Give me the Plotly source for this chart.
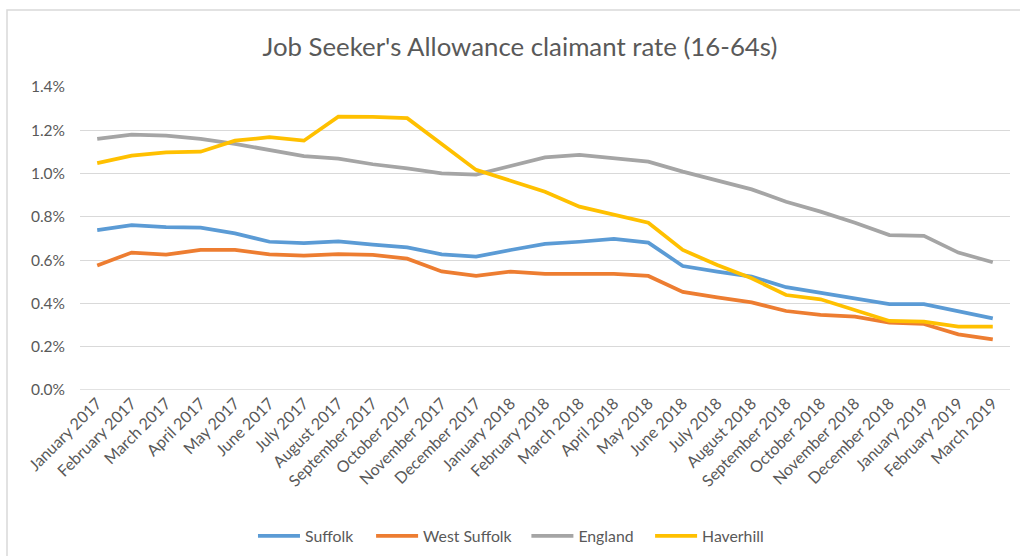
import plotly.graph_objects as go

months = [
    "January 2017", "February 2017", "March 2017", "April 2017", "May 2017",
    "June 2017", "July 2017", "August 2017", "September 2017", "October 2017",
    "November 2017", "December 2017", "January 2018", "February 2018",
    "March 2018", "April 2018", "May 2018", "June 2018", "July 2018",
    "August 2018", "September 2018", "October 2018", "November 2018",
    "December 2018", "January 2019", "February 2019", "March 2019",
]

# Claimant rate, % of residents aged 16-64
suffolk = [0.739, 0.762, 0.753, 0.750, 0.724, 0.685, 0.679, 0.687, 0.672, 0.659,
           0.627, 0.616, 0.647, 0.675, 0.685, 0.698, 0.681, 0.573, 0.547, 0.524,
           0.475, 0.450, 0.424, 0.397, 0.397, 0.362, 0.331]
west_suffolk = [0.575, 0.635, 0.625, 0.647, 0.647, 0.627, 0.621, 0.628, 0.624, 0.607,
                0.548, 0.527, 0.547, 0.536, 0.536, 0.536, 0.527, 0.453, 0.428, 0.405,
                0.365, 0.347, 0.339, 0.311, 0.305, 0.257, 0.234]
england = [1.160, 1.180, 1.175, 1.160, 1.137, 1.109, 1.081, 1.069, 1.043, 1.024,
           1.001, 0.995, 1.037, 1.075, 1.086, 1.071, 1.055, 1.009, 0.967, 0.927,
           0.870, 0.824, 0.773, 0.716, 0.712, 0.635, 0.590]
haverhill = [1.048, 1.083, 1.098, 1.101, 1.152, 1.168, 1.152, 1.263, 1.262, 1.256,
             1.137, 1.017, 0.967, 0.916, 0.847, 0.809, 0.773, 0.647, 0.578, 0.516,
             0.439, 0.419, 0.370, 0.319, 0.316, 0.293, 0.293]

y_ticks = [0.0, 0.2, 0.4, 0.6, 0.8, 1.0, 1.2, 1.4]
y_tick_labels = ["0.0%", "0.2%", "0.4%", "0.6%", "0.8%", "1.0%", "1.2%", "1.4%"]

series = [
    ("Suffolk", suffolk, "#5B9BD5"),
    ("West Suffolk", west_suffolk, "#ED7D31"),
    ("England", england, "#A5A5A5"),
    ("Haverhill", haverhill, "#FFC000"),
]

FONT = "Lato, 'Open Sans', sans-serif"
TEXT = "#595959"

# one legend per series so the entries can be spaced along the bottom
legend_ids = ["legend", "legend2", "legend3", "legend4"]
legend_x = [0.186, 0.313, 0.480, 0.613]

fig = go.Figure()
for (name, vals, color), lid in zip(series, legend_ids):
    fig.add_trace(go.Scatter(
        x=months, y=vals, name=name, mode="lines",
        line=dict(color=color, width=3.75), legend=lid,
    ))

layout_legends = {}
for lid, lx in zip(legend_ids, legend_x):
    layout_legends[lid] = dict(
        orientation="h", x=lx, xanchor="left", xref="paper",
        y=1 - 536 / 556, yref="container", yanchor="middle",
        font=dict(size=15.8, color=TEXT, family=FONT),
        itemwidth=42, bgcolor="rgba(0,0,0,0)",
    )

fig.update_layout(
    width=1020, height=556,
    margin=dict(l=80, r=10, t=87, b=166),
    paper_bgcolor="white", plot_bgcolor="white",
    font=dict(family=FONT, color=TEXT, size=15),
    title=dict(text="Job Seeker's Allowance claimant rate (16-64s)",
               x=0.473, xref="paper", xanchor="center",
               y=1 - 47 / 556, yref="container", yanchor="middle",
               font=dict(size=25.8, color=TEXT, family=FONT)),
    showlegend=True,
    xaxis=dict(
        type="category", range=[-0.5, 26.5],
        showgrid=False, zeroline=False, showline=False,
        tickangle=-45, tickfont=dict(size=16, color=TEXT),
        ticks="",
    ),
    yaxis=dict(
        range=[0, 1.4], tickvals=y_ticks, ticktext=y_tick_labels,
        showgrid=True, gridcolor="#D9D9D9", gridwidth=1.2,
        zeroline=False, showline=False,
        tickfont=dict(size=15.5, color=TEXT), ticks="",
        ticklabelstandoff=14,
    ),
    shapes=[dict(
        type="rect", xref="paper", yref="paper",
        x0=-0.0785, x1=1.03, y0=-0.58, y1=1.254,
        line=dict(color="#D9D9D9", width=1.5), fillcolor="rgba(0,0,0,0)",
        layer="below",
    ), dict(
        type="line", xref="paper", yref="y",
        x0=0, x1=1, y0=0, y1=0,
        line=dict(color="#D9D9D9", width=1.5), layer="below",
    )],
    **layout_legends,
)

fig.write_html("out.html")
